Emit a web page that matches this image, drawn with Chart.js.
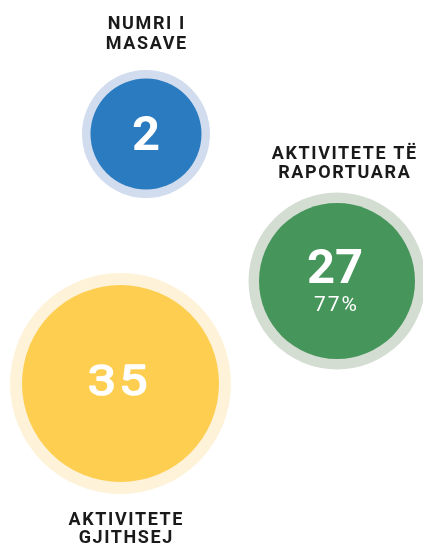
<!DOCTYPE html>
<html>
<head>
<meta charset="utf-8">
<script src="https://cdn.jsdelivr.net/npm/chart.js@4"></script>
<style>
  html, body { margin: 0; padding: 0; background: #ffffff; }
  #wrap { width: 423px; height: 554px; }
</style>
</head>
<body>
<div id="wrap"><canvas id="c" width="423" height="554"></canvas></div>
<script>
// ---- data ----
const categories = [['NUMRI I', 'MASAVE'], ['AKTIVITETE TË', 'RAPORTUARA'], ['AKTIVITETE', 'GJITHSEJ']];
const values = [2, 27, 35];
const shareLabels = ['', '77%', ''];

// ---- layout / style (not data) ----
const W = 423, H = 554;
const layout = [
  { x: 146, y: 134, r: 55.5, halo: 64, labelX: 146, labelBase: [29, 48.5], numDx: 0, numBase: 149.5, numFont: 'bold 49px Roboto', numScaleX: 1, numSpacing: 0, numStroke: 0 },
  { x: 337, y: 281, r: 78, halo: 88.5, labelX: 344, labelBase: [159, 177.5], numDx: -2, numBase: 282.5, numFont: 'bold 49px Roboto', numScaleX: 1, numSpacing: 0, numStroke: 0, subBase: 310.5 },
  { x: 120.5, y: 383.5, r: 98.5, halo: 110.5, labelX: 125.5, labelBase: [525, 543], numDx: -3, numBase: 394.5, numFont: '400 42px Roboto', numScaleX: 1.2, numSpacing: 2.5, numStroke: 1.6 }
];
const fillColors = ['#2A7BBF', '#46955A', '#FECE50'];
const haloColors = ['#D1DCEF', '#D3DDD1', '#FEF2D8'];
// Chart.js pads the chart area by the largest bubble radius; offset the scales so units equal pixels
const pad = Math.max(...layout.map(l => l.halo));

const labelPlugin = {
  id: 'bubbleLabels',
  afterDatasetsDraw(chart) {
    const ctx = chart.ctx;
    const meta = chart.getDatasetMeta(0);
    const ys = chart.scales.y;
    ctx.textAlign = 'center';
    ctx.textBaseline = 'alphabetic';
    meta.data.forEach((el, i) => {
      const L = layout[i];
      const dy = el.y - ys.getPixelForValue(L.y);
      // big value
      ctx.save();
      ctx.fillStyle = '#ffffff';
      ctx.strokeStyle = '#ffffff';
      ctx.font = L.numFont;
      ctx.letterSpacing = L.numSpacing + 'px';
      ctx.translate(el.x + L.numDx + L.numSpacing * L.numScaleX / 2, L.numBase + dy);
      ctx.scale(L.numScaleX, 1);
      ctx.fillText(String(values[i]), 0, 0);
      if (L.numStroke) {
        ctx.lineWidth = L.numStroke;
        ctx.lineJoin = 'round';
        ctx.strokeText(String(values[i]), 0, 0);
      }
      ctx.restore();
      ctx.save();
      if (shareLabels[i]) {
        ctx.fillStyle = '#ffffff';
        ctx.font = '400 21px Roboto';
        ctx.letterSpacing = '2px';
        ctx.fillText(shareLabels[i], el.x - 0.5, L.subBase + dy);
      }
      // category label
      ctx.fillStyle = '#1a1a1a';
      ctx.font = 'bold 18px Roboto';
      ctx.letterSpacing = '1.6px';
      categories[i].forEach((line, k) => {
        ctx.fillText(line, L.labelX + 0.8, L.labelBase[k] + dy);
      });
      ctx.restore();
    });
  }
};

new Chart(document.getElementById('c'), {
  type: 'bubble',
  data: {
    datasets: [
      {
        label: 'values',
        data: values.map((v, i) => ({ x: layout[i].x, y: layout[i].y, r: layout[i].r, v })),
        backgroundColor: fillColors,
        borderWidth: 0,
        hoverBorderWidth: 0,
        hoverRadius: 0,
        clip: false
      },
      {
        label: 'halo',
        data: values.map((v, i) => ({ x: layout[i].x, y: layout[i].y, r: layout[i].halo, v })),
        backgroundColor: haloColors,
        borderWidth: 0,
        hoverBorderWidth: 0,
        hoverRadius: 0,
        clip: false
      }
    ]
  },
  options: {
    responsive: false,
    animation: false,
    events: [],
    layout: { padding: 0 },
    plugins: { legend: { display: false }, tooltip: { enabled: false } },
    scales: {
      x: { type: 'linear', min: pad, max: W - pad, display: false },
      y: { type: 'linear', min: pad, max: H - pad, reverse: true, display: false }
    }
  },
  plugins: [labelPlugin]
});
</script>
</body>
</html>
